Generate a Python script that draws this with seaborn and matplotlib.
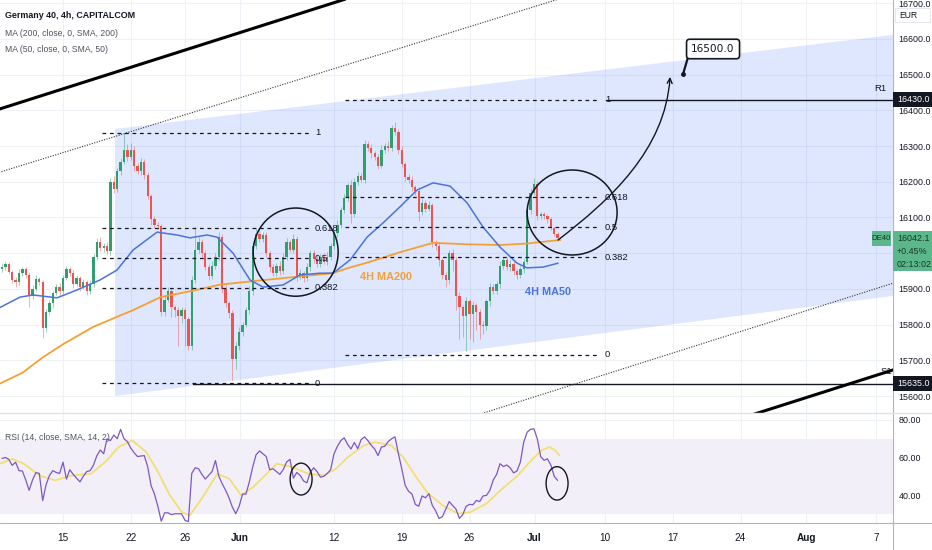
import numpy as np
import pandas as pd
import matplotlib
matplotlib.use("Agg")
import matplotlib.pyplot as plt
import matplotlib.transforms as mtrans
from matplotlib.patches import Ellipse, Polygon, FancyArrowPatch, Rectangle
from matplotlib.path import Path
from matplotlib.lines import Line2D
import seaborn as sns

# ------------------------------------------------------------------ data
title = "Germany 40, 4h, CAPITALCOM"
legend_lines = ["MA (200, close, 0, SMA, 200)", "MA (50, close, 0, SMA, 50)"]
rsi_title = "RSI (14, close, SMA, 14, 2)"

# x axis = trading-day index (0 = 15 May), 4 bars per day
first_bar_day = -4.5
bar_step = 0.25
first_open = 15955

closes = [
    15962, 15970, 15948, 15925, 15918, 15945, 15955, 15940, 15880, 15900,
    15928, 15920, 15790, 15835, 15860, 15888, 15905, 15895, 15930, 15955,
    15945, 15915, 15930, 15905, 15920, 15895, 15915, 15990, 16030, 16015,
    16020, 16005, 16200, 16180, 16230, 16255, 16290, 16270, 16290, 16245,
    16230, 16255, 16220, 16160, 16095, 16080, 16075, 15835, 15870, 15895,
    15850, 15840, 15825, 15840, 15815, 15740, 15925, 16010, 16030, 16000,
    15960, 15935, 15965, 15990, 16045, 15900, 15860, 15833, 15705, 15740,
    15780, 15800, 15840, 15895, 16020, 16055, 16040, 16050, 16000, 15960,
    15945, 15965, 15950, 15990, 16030, 16010, 16040, 15935, 15945, 15930,
    15960, 16000, 15985, 15970, 15990, 15975, 15990, 16020, 16056, 16080,
    16120, 16155, 16190, 16110, 16200, 16215, 16205, 16305, 16295, 16280,
    16270, 16245, 16290, 16300, 16295, 16350, 16340, 16290, 16250, 16213,
    16205, 16185, 16175, 16115, 16140, 16125, 16135, 16030, 16020, 15980,
    15940, 15925, 16000, 15980, 15880, 15850, 15825, 15865, 15830, 15855,
    15835, 15800, 15795, 15865, 15905, 15895, 15915, 15965, 15980, 15960,
    15970, 15950, 15938, 15955, 15975, 16120, 16170, 16195, 16105, 16110,
    16105, 16095, 16070, 16055, 16042,
]
wick_up = [
    10, 8, 6, 5, 8, 10, 6, 5, 8, 12,
    10, 5, 6, 8, 10, 6, 8, 12, 8, 10,
    6, 8, 10, 6, 8, 5, 10, 8, 12, 15,
    8, 10, 12, 15, 10, 12, 47, 15, 20, 10,
    8, 12, 10, 8, 6, 10, 8, 6, 12, 10,
    8, 6, 10, 8, 6, 5, 10, 63, 15, 10,
    8, 10, 12, 10, 15, 8, 10, 6, 8, 10,
    12, 8, 10, 12, 10, 15, 12, 10, 8, 6,
    10, 8, 12, 10, 12, 8, 15, 8, 10, 6,
    12, 10, 8, 12, 8, 10, 12, 8, 10, 12,
    10, 12, 8, 15, 10, 12, 10, 12, 8, 10,
    6, 8, 12, 10, 15, 10, 17, 8, 10, 6,
    8, 10, 6, 10, 12, 8, 10, 6, 8, 10,
    6, 8, 10, 12, 8, 10, 6, 12, 8, 10,
    6, 8, 10, 8, 12, 10, 8, 12, 10, 8,
    10, 8, 6, 8, 10, 15, 12, 15, 8, 6,
    5, 6, 5, 4, 3,
]
wick_dn = [
    8, 10, 6, 8, 12, 6, 8, 10, 30, 8,
    6, 10, 27, 12, 8, 10, 6, 12, 8, 6,
    10, 12, 8, 10, 6, 12, 8, 10, 8, 10,
    12, 8, 10, 12, 8, 10, 6, 12, 10, 15,
    8, 10, 12, 8, 15, 10, 8, 10, 12, 8,
    30, 20, 85, 20, 75, 12, 10, 8, 10, 12,
    8, 10, 6, 8, 10, 12, 10, 15, 60, 30,
    10, 12, 8, 10, 12, 8, 10, 8, 10, 12,
    8, 10, 12, 8, 10, 6, 10, 12, 8, 10,
    8, 10, 12, 8, 10, 6, 8, 10, 8, 10,
    10, 8, 10, 25, 8, 10, 6, 8, 10, 12,
    8, 10, 6, 8, 10, 8, 10, 12, 8, 10,
    8, 10, 12, 25, 8, 10, 8, 12, 10, 15,
    12, 20, 10, 30, 40, 90, 60, 100, 70, 80,
    50, 40, 20, 10, 12, 8, 10, 12, 10, 8,
    10, 12, 10, 8, 10, 6, 10, 8, 12, 10,
    8, 10, 6, 8, 5,
]
rsi_vals = [
    59.5, 60, 59, 55.8, 57.5, 53, 52.8, 48, 42.5, 48,
    52, 51.5, 37, 45.5, 50.4, 53, 52, 51.5, 57.5, 48.5,
    53.5, 51, 49, 47, 50, 52.5, 53, 56, 61, 64,
    62, 70, 69, 72, 70, 75, 70, 68.5, 65, 62.5,
    60.5, 60.8, 61, 55, 45, 40.5, 34, 26, 30.5, 30.5,
    29.5, 30, 30, 30, 26.5, 25.8, 51.5, 54.5, 54, 51,
    48.5, 50.5, 52.5, 58.4, 50, 46, 42.5, 38.5, 33.5, 30,
    34, 40.5, 40.5, 47, 55, 61.5, 63.5, 62, 60.5, 53.5,
    54, 52.5, 51, 53.5, 57.6, 59, 49, 52, 50.5, 47.5,
    46.5, 52.2, 54.5, 52.5, 49.5, 50, 51.5, 53.5, 62, 66,
    69, 70.5, 67, 64.5, 68, 64.7, 69.5, 71, 69, 66.5,
    64.5, 61, 65.6, 66, 68.5, 70, 71, 62, 54, 45.1,
    42, 40.5, 35, 34, 39.5, 38.5, 40.7, 34.5, 31.5, 27.5,
    28.5, 32.5, 36.5, 34.4, 32.5, 27.5, 29.5, 34, 35, 34.8,
    37.1, 36.5, 39.5, 39.8, 42.5, 48, 51, 56.7, 55.2, 56,
    54.5, 51.8, 52.8, 57.5, 68.2, 73.5, 75, 75.3, 70, 60.5,
    58.5, 59.3, 56, 50, 47.8,
]
rsi_ma_days = [-4.65, -3.77, -2.9, -1.73, -0.57, 0.6, 2.06, 3.23, 4.1, 5.12,
               6.14, 7.02, 7.89, 8.77, 9.35, 10.23, 11.39, 12.27, 13.15, 14.02,
               14.9, 15.77, 16.94, 18.1, 19.27, 20.14, 21.02, 22.19, 23.06, 24.23,
               25.1, 25.98, 26.85, 28.02, 29.19, 30.06, 31.23, 32.4, 33.56, 34.44,
               35.31, 35.9, 36.33, 36.63]
rsi_ma_vals = [56.7, 59.3, 56.7, 50.4, 47.8, 50.4, 51.3, 58.4, 65.6, 69.1,
               62.9, 52.2, 39.8, 30.9, 29.1, 38.0, 51.3, 48.7, 39.8, 44.2,
               50.4, 56.7, 54.9, 51.3, 50.4, 54.0, 60.2, 66.4, 68.2, 66.4,
               60.2, 50.4, 41.6, 34.4, 30.0, 30.9, 35.3, 43.3, 50.4, 57.6,
               63.8, 65.6, 63.8, 61.1]

ma200_days = [-4.7, -3.0, -1.5, 0.0, 2.2, 4.0, 5.2, 7.2, 9.6, 11.6, 14.1, 17.5,
              19.9, 21.0, 22.4, 24.9, 27.3, 29.8, 32.3, 34.2, 36.7]
ma200_vals = [15634, 15665, 15708, 15745, 15793, 15822, 15841, 15877, 15895, 15912,
              15922, 15935, 15944, 15958, 15973, 16003, 16029, 16025, 16023, 16027, 16037]
ma50_days = [-4.7, -3.17, -2.21, -0.44, 1.03, 2.73, 3.99, 5.17, 6.94, 8.41, 9.37,
             10.63, 11.37, 12.55, 13.8, 14.76, 16.24, 17.49, 18.97, 19.93, 21.18,
             22.44, 23.62, 24.87, 26.13, 27.31, 28.56, 29.82, 31.0, 32.25, 33.51,
             34.24, 35.42, 36.53]
ma50_vals = [15847, 15877, 15883, 15875, 15897, 15925, 15953, 16009, 16059, 16051, 16043,
             16051, 16045, 16000, 15925, 15905, 15911, 15939, 15944, 15944, 15981,
             16045, 16085, 16130, 16177, 16197, 16188, 16141, 16073, 16017, 15972,
             15959, 15961, 15972]

time_tick_days = [0, 5, 9, 13.05, 20, 25, 30, 34.8, 40, 45, 50, 54.85, 60]
time_tick_labels = ["15", "22", "26", "Jun", "12", "19", "26", "Jul", "10", "17", "24", "Aug", "7"]
price_ticks = [15600, 15700, 15800, 15900, 16000, 16100, 16200, 16300, 16400, 16500, 16600, 16700]
hidden_price_ticks = [16000]   # covered by the last-price label in the reference
rsi_ticks = [40, 60, 80]

fib_levels = [1, 0.618, 0.5, 0.382, 0]
fib_labels = ["1", "0.618", "0.5", "0.382", "0"]
fib_left = (15636, 16337)
fib_right = (15715, 16430)
r1_level = 16430.0
s1_level = 15635.0
last_price = 16042.1
last_change = "+0.45%"
countdown = "02:13:02"
target_price = 16500.0

# ------------------------------------------------------------------ style
sns.set_theme(style="white")
FN = ["Liberation Sans", "DejaVu Sans"]
plt.rcParams["font.family"] = FN
TXT = "#131722"

W, H = 932, 550
fig = plt.figure(figsize=(W / 100, H / 100), dpi=100)
fig.patch.set_facecolor("white")
ax = fig.add_axes([0, 137 / H, 893 / W, 413 / H])
ax2 = fig.add_axes([0, 27 / H, 893 / W, 110 / H], sharex=ax)

XL = (-4.65, 61.25)
ax.set_xlim(*XL)
ax.set_ylim(15552.4, 16709.2)
ax2.set_ylim(25.07, 83.73)

for a in (ax, ax2):
    for s in a.spines.values():
        s.set_visible(False)
    a.set_facecolor("white")
    a.grid(True, color="#eef1f6", lw=0.8)
    a.set_axisbelow(True)
    a.yaxis.tick_right()
    a.tick_params(axis="y", length=0, pad=4, labelsize=6.4, labelcolor=TXT)

ax.set_yticks(price_ticks)
ax.set_yticklabels(["" if v in hidden_price_ticks else f"{v:.1f}" for v in price_ticks])
ax2.set_yticks(rsi_ticks)
ax2.set_yticklabels([f"{v:.2f}" for v in rsi_ticks])
ax2.set_xticks(time_tick_days)
ax2.set_xticklabels(time_tick_labels)
ax2.tick_params(axis="x", length=0, pad=7, labelsize=7.2, labelcolor=TXT)
for lab in ax2.get_xticklabels():
    if lab.get_text() in ("Jun", "Jul", "Aug"):
        lab.set_fontweight("bold")
plt.setp(ax.get_xticklabels(), visible=False)
ax.tick_params(axis="x", length=0)

# ------------------------------------------------------------------ channel fill
chan = Polygon([(3.84, 16348), (62, 16615), (62, 15884), (3.84, 15600)],
               closed=True, facecolor="#2962ff", alpha=0.15, lw=0, zorder=1)
ax.add_patch(chan)

# ------------------------------------------------------------------ candles
n = len(closes)
days = first_bar_day + bar_step * np.arange(n)
opens = [first_open] + closes[:-1]
df = pd.DataFrame({"day": days, "open": opens, "close": closes})
df["top"] = df[["open", "close"]].max(axis=1)
df["bot"] = df[["open", "close"]].min(axis=1)
df["high"] = df["top"] + np.array(wick_up)
df["low"] = df["bot"] - np.array(wick_dn)
df["up"] = df["close"] >= df["open"]
GREEN, RED = "#2f9f70", "#ef5350"
cols = np.where(df["up"], GREEN, RED)
ax.vlines(df["day"], df["low"], df["high"], colors=cols, lw=0.6, alpha=0.55, zorder=2)
ax.bar(df["day"], np.maximum(df["top"] - df["bot"], 2.0), bottom=df["bot"],
       width=0.17, color=cols, linewidth=0, zorder=2.2)

# ------------------------------------------------------------------ moving averages
sns.lineplot(x=ma200_days, y=ma200_vals, ax=ax, color="#f5a032", lw=1.3, legend=False, zorder=3)
sns.lineplot(x=ma50_days, y=ma50_vals, ax=ax, color="#4a74db", lw=1.1, legend=False, zorder=3)
ax.set_xlabel("")
ax.set_ylabel("")

# ------------------------------------------------------------------ trend lines
ax.plot([-5, 25], [16400, 16762], color="black", lw=2.2, zorder=4, solid_capstyle="butt")
ax.plot([50, 62], [15537, 15682], color="black", lw=2.2, zorder=4, solid_capstyle="butt")
ax.plot([-5, 40], [16223, 16752], color="#333333", lw=0.8, ls=(0, (1, 1.3)), zorder=4)
ax.plot([30, 62], [15540, 15925], color="#333333", lw=0.8, ls=(0, (1, 1.3)), zorder=4)

# horizontal S/R
ax.plot([9.6, 62], [s1_level, s1_level], color="#131722", lw=1.0, zorder=3.5)
ax.plot([40.1, 62], [r1_level, r1_level], color="#131722", lw=1.0, zorder=3.5)

# fib retracements
def fib(rng, x0, x1, xl):
    lo, hi = rng
    for lv, lab in zip(fib_levels, fib_labels):
        p = lo + lv * (hi - lo)
        ax.plot([x0, x1], [p, p], color="#131722", lw=0.9, ls=(0, (3, 3)), zorder=3.6)
        ax.text(xl, p, lab, fontsize=6.8, color=TXT, va="center", ha="left", zorder=5)

fib(fib_left, 2.88, 18.23, 18.6)
fib(fib_right, 20.8, 39.63, 40.0)

ax.text(60.75, 16462, "R1", fontsize=6.8, color=TXT, ha="right", va="center", zorder=5)
ax.text(61.2, 15668, "S1", fontsize=6.8, color=TXT, ha="right", va="center", zorder=3.9)

# ellipses
for (cx, cy, w, h) in [(17.17, 16003, 6.27, 247), (37.57, 16114, 6.64, 238)]:
    ax.add_patch(Ellipse((cx, cy), w, h, fill=False, ec="#131722", lw=1.1, zorder=4))

# projection arrow
verts = [(36.53, 16037), (40.37, 16149), (44.43, 16289), (44.80, 16494)]
path = Path(verts, [Path.MOVETO, Path.CURVE4, Path.CURVE4, Path.CURVE4])
ax.add_patch(FancyArrowPatch(path=path, arrowstyle="->", mutation_scale=9,
                             lw=1.0, color="#131722", zorder=5))

# target callout
ax.plot([46.1, 45.76], [16546, 16502], color="#131722", lw=1.6, zorder=5)
ax.plot([45.76], [16502], "o", ms=2.5, color="#131722", zorder=5)
ax.text(47.97, 16572, f"{target_price:.1f}", fontsize=7.6, color=TXT, ha="center", va="center",
        family=["DejaVu Sans"], zorder=6,
        bbox=dict(boxstyle="round,pad=0.45,rounding_size=0.3", fc="white", ec="#131722", lw=1.2))

# MA labels
ax.text(23.84, 15933, "4H MA200", fontsize=7.8, color="#f5a032", fontweight="bold",
        ha="center", va="center", zorder=5)
ax.text(35.8, 15891, "4H MA50", fontsize=7.8, color="#4a74db", fontweight="bold",
        ha="center", va="center", zorder=5)

# ------------------------------------------------------------------ RSI
ax2.axhspan(30, 70, color="#7e57c2", alpha=0.09, lw=0, zorder=0.5)
sns.lineplot(x=rsi_ma_days, y=rsi_ma_vals, ax=ax2, color="#f4df72", lw=1.3, legend=False, zorder=2)
sns.lineplot(x=days, y=rsi_vals, ax=ax2, color="#7e57c2", lw=0.9, legend=False, zorder=3)
for (cx, cy, w, h) in [(17.57, 48.5, 1.62, 17.0), (36.46, 46.2, 1.62, 17.8)]:
    ax2.add_patch(Ellipse((cx, cy), w, h, fill=False, ec="#131722", lw=1.0, zorder=4))
ax2.set_xlim(*XL)
ax2.set_xlabel("")
ax2.set_ylabel("")

# ------------------------------------------------------------------ figure decorations
def fx(x):
    return x / W

def fy(y):
    return 1 - y / H

fig.add_artist(Line2D([fx(893), fx(893)], [0, 1], color="#b2b5be", lw=0.8))
fig.add_artist(Line2D([0, 1], [fy(413), fy(413)], color="#e0e3eb", lw=1.0))
fig.add_artist(Line2D([0, 1], [fy(523), fy(523)], color="#b2b5be", lw=0.8))

fig.text(fx(5), fy(16), title, fontsize=6.4, color=TXT, fontweight="bold", va="center")
fig.text(fx(5), fy(33), legend_lines[0], fontsize=6.2, color="#50535e", va="center")
fig.text(fx(5), fy(49), legend_lines[1], fontsize=6.2, color="#50535e", va="center")
fig.text(fx(5), fy(438), rsi_title, fontsize=6.2, color="#50535e", va="center")

# EUR box
fig.patches.append(Rectangle((fx(895), fy(22)), 35 / W, 14 / H, transform=fig.transFigure,
                             fc="white", ec="#e0e3eb", lw=0.6, zorder=5))
fig.text(fx(899), fy(15), "EUR", fontsize=6.2, color=TXT, va="center", zorder=6)

bt = mtrans.blended_transform_factory(fig.transFigure, ax.transData)
pp = 2.801  # price units per pixel

def price_box(price, label, fc, tc, height_px=15):
    top = price + 7.5 * pp
    fig.patches.append(Rectangle((fx(893), top - height_px * pp), 39 / W, height_px * pp,
                                 transform=bt, fc=fc, ec="none", zorder=7))
    fig.text(fx(897), price, label, transform=bt, fontsize=6.4, color=tc, va="center", zorder=8)

price_box(r1_level, f"{r1_level:.1f}", "#131722", "white")
price_box(s1_level, f"{s1_level:.1f}", "#131722", "white")
price_box(last_price, f"{last_price:.1f}", "#5cb88a", "#16352a", height_px=40)
fig.text(fx(897), last_price - 13 * pp, last_change, transform=bt, fontsize=6.4, color="#16352a",
         va="center", zorder=8)
fig.text(fx(897), last_price - 26 * pp, countdown, transform=bt, fontsize=6.4, color="#16352a",
         va="center", zorder=8)
fig.patches.append(Rectangle((fx(872), last_price - 7.5 * pp), 19 / W, 15 * pp,
                             transform=bt, fc="#5cb88a", ec="none", zorder=7))
fig.text(fx(881.5), last_price, "DE40", transform=bt, fontsize=5.6, color="#16352a",
         va="center", ha="center", zorder=8)

fig.savefig("out.png", dpi=100, facecolor="white")
